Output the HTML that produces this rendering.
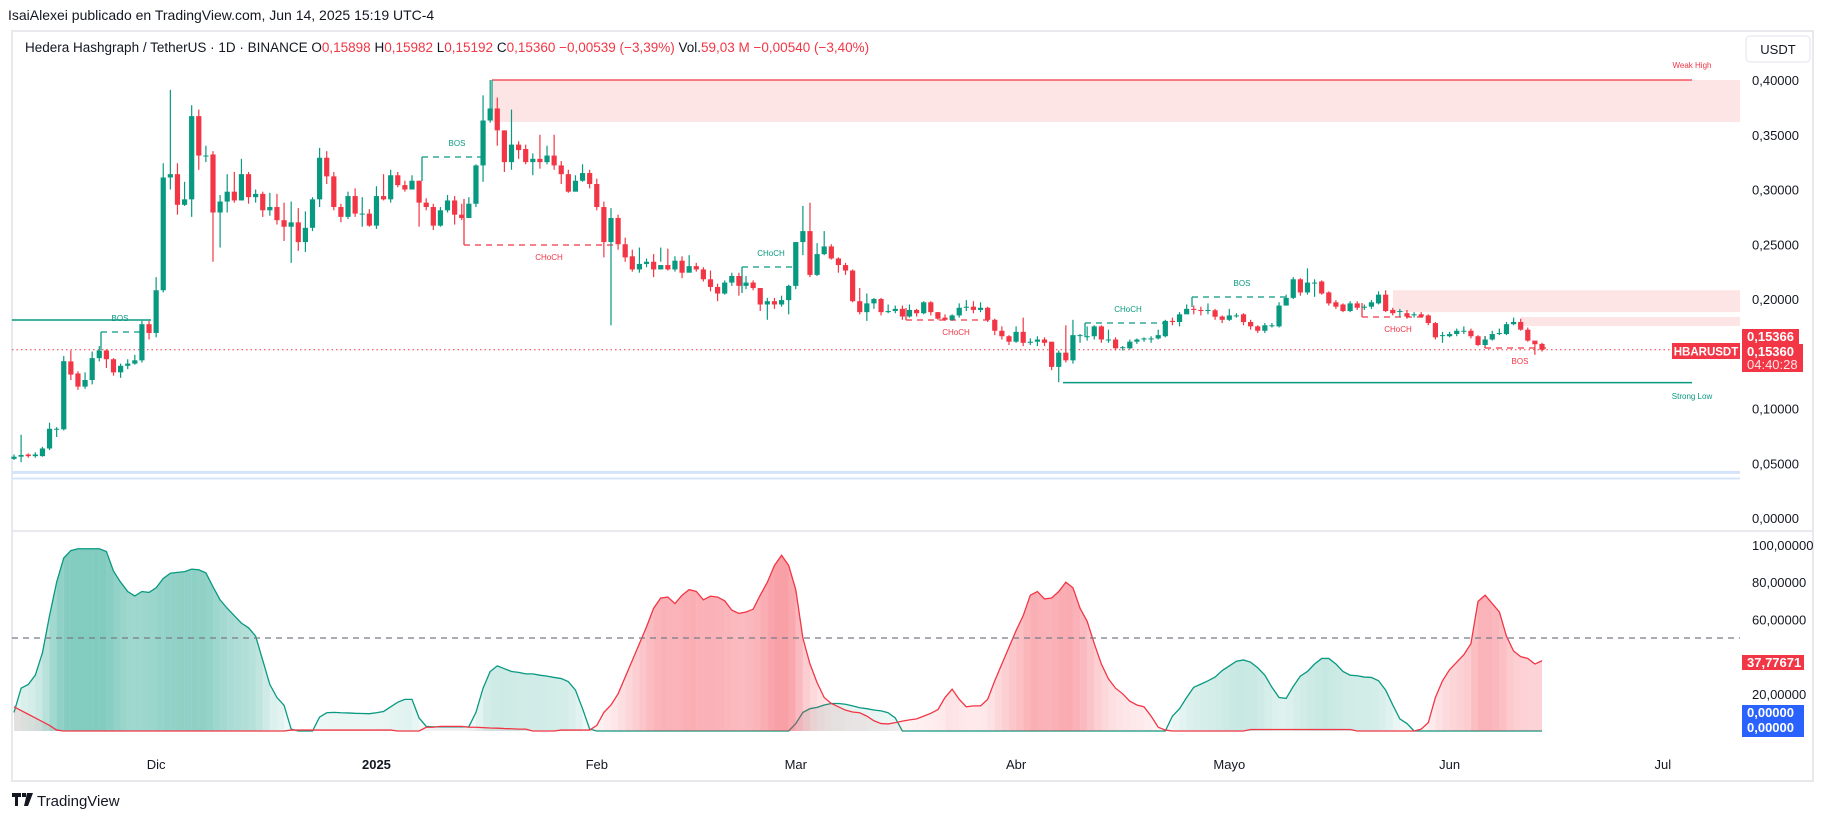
<!DOCTYPE html>
<html><head><meta charset="utf-8"><style>
html,body{margin:0;padding:0;background:#fff;}
svg{display:block;font-family:"Liberation Sans",sans-serif;}
</style></head><body>
<svg id="c" width="1825" height="820" viewBox="0 0 1825 820" xmlns="http://www.w3.org/2000/svg">
<text x="8" y="20" font-size="14" fill="#131722">IsaiAlexei publicado en TradingView.com, Jun 14, 2025 15:19 UTC-4</text>
<rect x="12" y="31" width="1801" height="750" fill="#fff" stroke="#e8e9ec" stroke-width="2"/>
<line x1="12" y1="531" x2="1813" y2="531" stroke="#e0e3eb" stroke-width="1.5"/>
<text x="25" y="52" font-size="13.5" fill="#131722">Hedera Hashgraph / TetherUS · 1D · BINANCE  O<tspan fill="#f23645">0,15898</tspan>  H<tspan fill="#f23645">0,15982</tspan>  L<tspan fill="#f23645">0,15192</tspan>  C<tspan fill="#f23645">0,15360  −0,00539 (−3,39%)</tspan>  Vol.<tspan fill="#f23645">59,03 M  −0,00540 (−3,40%)</tspan></text>
<g id="ann"></g>
<g id="osc"></g>
<g id="candles"></g>
<g id="axes"></g>
<rect x="1746" y="36" width="64" height="26" rx="4" fill="#fff" stroke="#e0e3eb"/>
<text x="1778" y="54" font-size="13" fill="#131722" text-anchor="middle">USDT</text>
<g>
<path d="M12 793h9v4h-3v9h-3v-9h-3z M22 793h4v4h-4z M27 793h6l-5 13h-4z" fill="#131722"/>
<text x="37" y="806" font-size="15" fill="#131722">TradingView</text>
</g>
</svg>
<script>
const opens=[.054,.056,.058,.0565,.0565,.0635,.0815,.081,.143,.132,.120,.126,.146,.153,.145,.133,.139,.141,.144,.177,.169,.208,.311,.314,.286,.291,.367,.331,.332,.279,.289,.298,.290,.314,.293,.296,.281,.284,.272,.266,.270,.252,.265,.291,.329,.312,.284,.275,.294,.278,.278,.267,.294,.291,.313,.304,.300,.308,.288,.284,.267,.281,.290,.277,.274,.287,.322,.363,.374,.354,.325,.341,.337,.325,.328,.325,.331,.322,.314,.298,.308,.315,.305,.284,.252,.274,.250,.239,.227,.232,.234,.227,.231,.227,.235,.224,.230,.227,.218,.211,.205,.215,.221,.212,.215,.210,.195,.198,.195,.199,.212,.252,.262,.222,.241,.248,.237,.231,.226,.198,.188,.196,.200,.188,.189,.191,.184,.190,.187,.197,.188,.183,.181,.185,.192,.193,.190,.192,.181,.171,.166,.161,.170,.160,.161,.163,.161,.138,.151,.144,.167,.166,.166,.175,.163,.163,.156,.155,.161,.163,.164,.164,.166,.180,.179,.186,.191,.190,.190,.1897,.184,.181,.185,.186,.179,.175,.171,.176,.175,.194,.201,.218,.206,.215,.216,.206,.197,.195,.189,.196,.192,.193,.196,.204,.190,.189,.187,.186,.186,.185,.178,.167,.166,.168,.171,.171,.166,.158,.163,.169,.168,.177,.179,.172,.162,.159];
const closes=[.056,.0575,.0565,.058,.0635,.0815,.0815,.1432,.131,.120,.126,.146,.153,.145,.133,.139,.141,.144,.177,.169,.208,.311,.314,.286,.291,.367,.331,.331,.279,.289,.298,.290,.314,.293,.296,.281,.284,.272,.266,.270,.252,.265,.291,.329,.312,.284,.275,.294,.278,.278,.267,.294,.291,.313,.304,.300,.308,.288,.284,.267,.281,.290,.277,.274,.287,.322,.363,.374,.354,.325,.341,.336,.325,.328,.325,.331,.322,.314,.298,.308,.315,.305,.284,.252,.274,.250,.238,.227,.232,.234,.227,.231,.227,.235,.224,.230,.227,.218,.211,.205,.215,.221,.212,.215,.210,.195,.198,.195,.199,.212,.252,.262,.222,.241,.248,.237,.231,.226,.198,.188,.196,.200,.188,.189,.191,.184,.190,.187,.197,.188,.182,.181,.185,.192,.193,.190,.192,.181,.171,.166,.161,.170,.160,.161,.163,.160,.138,.151,.144,.167,.167,.166,.175,.163,.163,.155,.156,.161,.163,.164,.164,.167,.180,.179,.186,.191,.190,.189,.190,.1838,.181,.185,.185,.179,.175,.171,.176,.176,.194,.201,.218,.206,.215,.215,.205,.196,.193,.189,.196,.192,.193,.197,.204,.189,.187,.189,.184,.186,.184,.178,.165,.167,.168,.171,.171,.166,.158,.163,.168,.169,.177,.179,.172,.162,.1587,.1536];
const highs=[.058,.076,.059,.060,.065,.087,.083,.148,.153,.134,.133,.152,.157,.154,.146,.141,.145,.149,.180,.180,.220,.324,.391,.324,.307,.377,.373,.340,.335,.295,.314,.316,.328,.316,.300,.298,.297,.296,.288,.289,.283,.280,.293,.338,.335,.316,.287,.298,.301,.293,.282,.303,.314,.318,.316,.308,.313,.308,.292,.287,.284,.295,.294,.287,.293,.323,.386,.400,.384,.354,.373,.344,.341,.333,.350,.340,.350,.326,.318,.313,.323,.318,.310,.289,.283,.277,.256,.245,.247,.237,.241,.247,.246,.239,.239,.240,.233,.229,.226,.214,.217,.224,.224,.221,.217,.210,.201,.201,.203,.213,.252,.285,.288,.251,.262,.250,.238,.233,.227,.210,.205,.201,.201,.195,.194,.194,.195,.191,.198,.198,.188,.186,.186,.196,.199,.198,.197,.193,.182,.175,.167,.175,.183,.164,.166,.165,.161,.153,.176,.181,.168,.175,.176,.176,.172,.165,.157,.163,.164,.165,.166,.172,.181,.183,.188,.195,.194,.193,.196,.191,.185,.191,.187,.187,.181,.176,.178,.178,.197,.204,.220,.219,.228,.218,.217,.207,.199,.196,.198,.198,.195,.199,.207,.208,.192,.191,.190,.188,.188,.186,.179,.170,.170,.173,.175,.173,.167,.166,.171,.173,.179,.183,.182,.174,.161,.160];
const lows=[.053,.051,.055,.055,.056,.062,.074,.080,.126,.117,.118,.122,.143,.137,.130,.128,.136,.140,.142,.163,.165,.206,.300,.277,.285,.275,.318,.325,.234,.247,.279,.288,.290,.287,.288,.275,.276,.268,.253,.233,.244,.243,.262,.284,.305,.281,.270,.273,.275,.266,.266,.264,.290,.288,.302,.298,.301,.266,.281,.263,.266,.279,.268,.272,.274,.284,.307,.361,.340,.316,.318,.328,.323,.313,.319,.323,.318,.305,.297,.302,.307,.301,.281,.238,.176,.245,.234,.225,.224,.229,.220,.234,.226,.225,.219,.227,.225,.216,.207,.198,.204,.212,.203,.209,.208,.189,.181,.191,.193,.186,.209,.240,.220,.221,.240,.236,.224,.222,.197,.186,.180,.191,.185,.187,.187,.181,.183,.184,.186,.185,.181,.180,.180,.183,.189,.187,.188,.179,.167,.163,.158,.160,.157,.158,.157,.157,.135,.124,.142,.141,.160,.162,.163,.160,.160,.153,.153,.154,.159,.161,.160,.163,.165,.176,.175,.188,.186,.185,.186,.181,.178,.180,.183,.176,.172,.169,.169,.174,.174,.199,.200,.203,.204,.202,.204,.194,.191,.188,.188,.190,.190,.191,.195,.188,.185,.184,.182,.183,.183,.176,.163,.160,.165,.166,.168,.164,.157,.157,.162,.167,.167,.176,.171,.161,.149,.152];
const bullOsc=[10,23,25,30,42,62,80,93,97,98,98,98,98,96.5,86,80,75,72.6,75,74.5,77,82,84.8,85.3,85.7,87,86.7,85,77.5,70.5,66,62,58,55.5,51,38,25,18,13.8,1,0,0,0,7.5,9.8,10,9.8,9.7,9.5,9.4,9.3,9.8,10.5,13,15.5,17,17,7,2.5,2.2,2.2,2.2,2.2,2.2,2.3,10,23,32,35,33.5,32,31.5,30.7,30.7,30,29.5,28.8,28.2,26.5,22,12,1,0,0,0,0,0,0,0,0,0,0,0,0,0,0,0,0,0,0,0,0,0,0,0,0,0,0,0,0,4,10,12,12.7,14,14.8,14.8,14.4,13.5,12.5,12,11.3,10.8,9.8,7,0,0,0,0,0,0,0,0,0,0,0,0,0,0,0,0,0,0,0,0,0,0,0,0,0,0,0,0,0,0,0,0,0,0,0,0,0,0,8,12,18,23.5,25.2,27,29,32.5,35,37.5,38.2,37,34,30,23.5,18,17.5,24,29.5,32,36,39,39,36,32,30,29.7,29,28.8,27,22,14,6.5,4,0,0,0,0,0,0,0,0,0,0,0,0,0,0,0,0,0,0,0];
const bearOsc=[13,11,9,7,5,3,0.5,0,0,0,0,0,0,0,0,0,0,0,0,0,0,0,0,0,0,0,0,0,0,0,0,0,0,0,0,0,0,0,0,0.5,0.5,0.5,0.5,0.5,0.5,0.5,0.5,0.5,0.5,0.5,0.5,0.5,0.5,0.5,0,0,0,0,2,2,2.5,2.5,2.5,2.5,2,2,1.8,1.6,1.5,1.3,1.2,1,1,0,0,0,0,0.5,0.5,0.5,0.5,0.5,3,10,14,20,29,38,47,56,66,71.5,72,68.5,73,76,75,70.5,72.5,72,70,65,63.2,64,65.5,73,80,89,94.5,89,76,50,36,26,18,14.8,13,11.2,10.2,9.8,8,5.5,4,3.8,4.5,5.3,6,6.5,8,9.5,11.5,18,22.5,17,13,13.5,13.5,17,27,36,45,54,62,73,75,71,71.5,75,80,77,66,59,47,36,28,23,20,16,14,13,8,2,0.5,0,0,0,0,0,0,0,0,0,0,0,0.8,0.8,0.8,0.8,0.8,0.8,0.8,0.8,0.8,0.8,0.8,0.8,0.8,0.8,0.8,0,0,0,0,0,0,0,0,0,1,4.5,18,27,33,37,41,47,69.7,73,68.5,64,51,43,40,39,36,37.78];
const priceTicks=["0,40000","0,35000","0,30000","0,25000","0,20000","0,10000","0,05000","0,00000"];
const priceTickVals=[0.40,0.35,0.30,0.25,0.20,0.10,0.05,0.00];
const oscTicks=["100,00000","80,00000","60,00000","20,00000"];
const oscTickVals=[100,80,60,20];
const timeLabels=["Dic","2025","Feb","Mar","Abr","Mayo","Jun","Jul"];
const timeIdx=[20,51,82,110,141,171,202,232];

const NS="http://www.w3.org/2000/svg";
const X=i=>14+i*7.107;
const PY=p=>518-p*1095;
const OY=v=>731-v*1.86;
function mk(tag,attrs,parent){const e=document.createElementNS(NS,tag);for(const k in attrs)e.setAttribute(k,attrs[k]);parent.appendChild(e);return e;}
const G='#089981',R='#f23645';
const cg=document.getElementById('candles');
for(let i=0;i<closes.length;i++){
  const up=closes[i]>=opens[i];const col=up?G:R;
  const g=mk('g',{},cg);
  
  
  mk('line',{x1:X(i),x2:X(i),y1:PY(highs[i]),y2:PY(lows[i]),stroke:col,'stroke-width':1.2},g);
  const t=PY(Math.max(opens[i],closes[i])),b=PY(Math.min(opens[i],closes[i]));
  mk('rect',{x:X(i)-2.6,y:t,width:5.2,height:Math.max(1,b-t),fill:col},g);
}
const og=document.getElementById('osc');
function area(vals,rgb,lineCol,name){
  for(let i=0;i<vals.length-1;i++){
    const a=vals[i],b=vals[i+1];if(a<=0&&b<=0)continue;
    const p=mk('polygon',{points:`${X(i)},${OY(0)} ${X(i)},${OY(a)} ${X(i+1)},${OY(b)} ${X(i+1)},${OY(0)}`,fill:rgb,'fill-opacity':(0.04+0.48*(a+b)/200).toFixed(3)},og);
    
    
  }
  const pl=mk('polyline',{points:vals.map((v,i)=>X(i)+','+OY(v)).join(' '),fill:'none',stroke:lineCol,'stroke-width':1.3},og);
  
  
}
area(bullOsc,'#089981',G,'bull-oscillator');
area(bearOsc,'#f23645',R,'bear-oscillator');
const ml=mk('line',{x1:12,x2:1740,y1:OY(50),y2:OY(50),stroke:'#787b86','stroke-dasharray':'6 5','stroke-width':1.2},og);


const ag=document.getElementById('ann');
function A(tag,attrs,name){const e=mk(tag,attrs,ag);return e;}
A('rect',{x:492,y:PY(0.40),width:1248,height:PY(0.3616)-PY(0.40),fill:'#fde4e5'},'weak-high-zone');
A('line',{x1:492,x2:1692,y1:PY(0.40),y2:PY(0.40),stroke:R,'stroke-width':1.2},'weak-high-line');
A('line',{x1:492,x2:492,y1:PY(0.40),y2:PY(0.37),stroke:G,'stroke-width':1.2},'weak-high-anchor');
A('rect',{x:1393,y:PY(0.208),width:347,height:PY(0.188)-PY(0.208),fill:'#fde4e5'},'supply-zone-1');
A('rect',{x:1521,y:PY(0.1836),width:219,height:PY(0.1753)-PY(0.1836),fill:'#fde4e5'},'supply-zone-2');
A('line',{x1:1063,x2:1692,y1:PY(0.1236),y2:PY(0.1236),stroke:G,'stroke-width':1.5},'strong-low-line');
A('rect',{x:12,y:PY(0.043),width:1728,height:3,fill:'#d6e4fb'},'support-band-1');
A('rect',{x:12,y:PY(0.037),width:1728,height:2,fill:'#d6e4fb'},'support-band-2');
A('line',{x1:12,x2:151,y1:320,y2:320,stroke:G,'stroke-width':1.5},'bos-level-line');
function dash(x1,x2,y,vy,col,name){A('line',{x1:x1,x2:x2,y1:y,y2:y,stroke:col,'stroke-width':1.3,'stroke-dasharray':'6 5'},name);A('line',{x1:x1,x2:x1,y1:y,y2:vy,stroke:col,'stroke-width':1.3},name+'-tick');}
dash(101,143,332,350,G,'bos-1');
dash(422,482,157,181,G,'bos-2');
dash(464,614,245,199,R,'choch-1');
dash(742,796,267,293,G,'choch-2');
dash(906,995,320,308,R,'choch-3');
dash(1085,1163,323,337,G,'choch-4');
dash(1192,1289,297,307,G,'bos-3');
dash(1362,1429,317,303,R,'choch-5');
dash(1485,1548,348,336,R,'bos-4');
function lbl(x,y,t,col,name){const e=A('text',{x:x,y:y,'font-size':8,fill:col,'text-anchor':'middle'},name);e.textContent=t;}
lbl(120,321,'BOS',G,'bos-label-1');lbl(457,146,'BOS',G,'bos-label-2');lbl(549,260,'CHoCH',R,'choch-label-1');
lbl(771,256,'CHoCH',G,'choch-label-2');lbl(956,335,'CHoCH',R,'choch-label-3');lbl(1128,312,'CHoCH',G,'choch-label-4');
lbl(1242,286,'BOS',G,'bos-label-3');lbl(1398,332,'CHoCH',R,'choch-label-5');lbl(1520,364,'BOS',R,'bos-label-4');
lbl(1692,68,'Weak High',R,'weak-high-label');lbl(1692,399,'Strong Low',G,'strong-low-label');
A('line',{x1:12,x2:1740,y1:PY(0.1536),y2:PY(0.1536),stroke:R,'stroke-width':1,'stroke-dasharray':'1.5 3'},'current-price-line');
const xg=document.getElementById('axes');
function T(x,y,t,attrs,name){const e=mk('text',Object.assign({x:x,y:y},attrs),xg);e.textContent=t;return e;}
priceTickVals.forEach((v,k)=>T(1752,PY(v)+5,priceTicks[k],{'font-size':13,fill:'#131722'},'price-tick'));
oscTickVals.forEach((v,k)=>T(1752,OY(v)+5,oscTicks[k],{'font-size':13,fill:'#131722'},'osc-tick'));
timeIdx.forEach((d,k)=>T(X(d),769,timeLabels[k],{'font-size':13,fill:'#131722','text-anchor':'middle','font-weight':k==1?'bold':'normal'},'time-tick'));
function box(x,y,w,h,col,name){const r=mk('rect',{x:x,y:y,width:w,height:h,fill:col},xg);}
box(1672,343,68,16,R,'symbol-tag');T(1706,355.5,'HBARUSDT',{'font-size':11.5,fill:'#fff','text-anchor':'middle','font-weight':'bold'},'symbol-tag-text');
box(1742,329,57,15,R,'high-price-tag');T(1747,341,'0,15366',{'font-size':13,fill:'#fff','font-weight':'bold'},'high-price-text');
box(1742,344,61,28,R,'last-price-tag');T(1747,356,'0,15360',{'font-size':13,fill:'#fff','font-weight':'bold'},'last-price-text');
T(1747,369,'04:40:28',{'font-size':13,fill:'#fde4e5'},'countdown-text');
box(1742,655,62,15,R,'osc-value-tag');T(1747,667,'37,77671',{'font-size':13,fill:'#fff','font-weight':'bold'},'osc-value-text');
box(1742,705,62,32,'#2962ff','osc-zero-tag');T(1747,717,'0,00000',{'font-size':13,fill:'#fff','font-weight':'bold'},'osc-zero-text-1');
T(1747,732,'0,00000',{'font-size':13,fill:'#fff','font-weight':'bold'},'osc-zero-text-2');
</script>
</body></html>
